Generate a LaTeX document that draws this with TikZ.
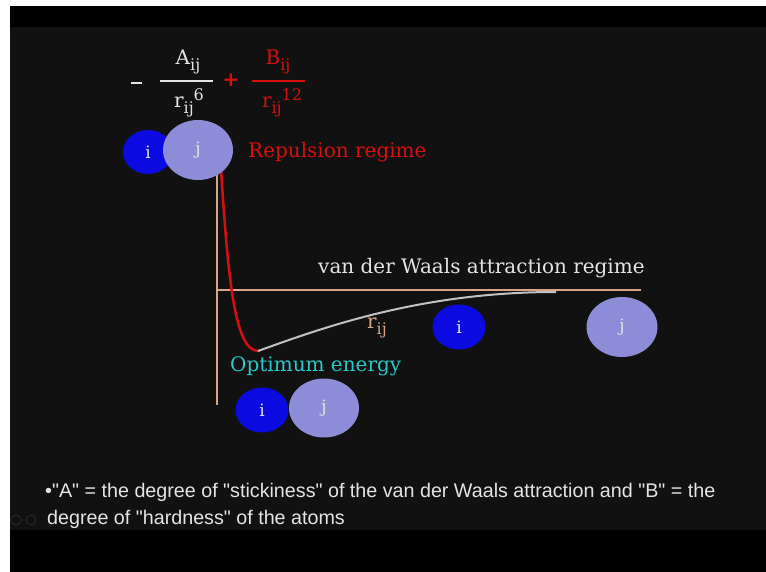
\documentclass[tikz,border=0pt]{standalone}
\usepackage{fontspec}
\setmainfont{DejaVu Serif}
\newfontfamily\notefont{Liberation Sans}
\usetikzlibrary{shapes.geometric}
\definecolor{bgdark}{RGB}{17,17,17}
\definecolor{atomi}{RGB}{10,10,225}
\definecolor{atomj}{RGB}{140,140,215}
\definecolor{axistan}{RGB}{215,165,135}
\definecolor{redtxt}{RGB}{215,15,15}
\definecolor{cyantxt}{RGB}{40,200,200}
\definecolor{whitetxt}{RGB}{228,228,228}
\tikzset{
  atomI/.style={ellipse, fill=atomi, draw=none, inner sep=0pt, text=whitetxt, font=\fontsize{17}{17}\selectfont},
  atomJ/.style={ellipse, fill=atomj, draw=none, inner sep=0pt, text=whitetxt, font=\fontsize{17}{17}\selectfont},
  axisline/.style={draw=axistan, line width=2pt},
  lbl/.style={inner sep=0pt, font=\fontsize{20}{20}\selectfont},
  fbar/.style={line width=2pt},
  note/.style={inner sep=0pt, anchor=west, text=whitetxt, font=\notefont\fontsize{19.7}{20}\selectfont}
}
\newcommand{\sbij}{\raisebox{-6pt}{\fontsize{16}{16}\selectfont ij}}
\begin{document}
\begin{tikzpicture}[x=1pt,y=-1pt]
\useasboundingbox (0,0) rectangle (766,572);
\fill[white] (0,0) rectangle (766,572);
\fill[black] (10,6) rectangle (766,572);
\fill[bgdark] (10,27) rectangle (766,530);

% formula
\coordinate (ml) at (131,83); \coordinate (mr) at (142,83);
\draw[whitetxt, line width=2pt] (ml) -- (mr);
\coordinate (abl) at (160,81); \coordinate (abr) at (213,81);
\draw[fbar, whitetxt] (abl) -- (abr);
\node[lbl, text=whitetxt] (anum) at (188,62) {A\sbij};
\node[lbl, text=whitetxt] (aden) at (189,103) {r\sbij\raisebox{7pt}{\fontsize{16}{16}\selectfont 6}};
\node[lbl, text=redtxt] (plus) at (231,80) {\textbf{+}};
\coordinate (bbl) at (252,81); \coordinate (bbr) at (305,81);
\draw[fbar, redtxt] (bbl) -- (bbr);
\node[lbl, text=redtxt] (bnum) at (278,62) {B\sbij};
\node[lbl, text=redtxt] (bden) at (282,103) {r\sbij\raisebox{7pt}{\fontsize{16}{16}\selectfont 12}};

% axes
\coordinate (vtop) at (217,175); \coordinate (vbot) at (217,405);
\coordinate (hleft) at (217,290); \coordinate (hright) at (641,290);
\draw[axisline] (vtop) -- (vbot);
\draw[axisline] (hleft) -- (hright);

% curve
\coordinate (cstart) at (221,170);
\coordinate (cmin) at (258,351);
\coordinate (cend) at (556,292);
\draw[redtxt, line width=2.5pt] (cstart) .. controls (228,275) and (234,350) .. (cmin);
\draw[whitetxt!85!black, line width=2pt] (cmin) .. controls (322,328) and (420,292) .. (cend);

% atoms
\node[atomI, minimum width=50pt, minimum height=44pt] (i1) at (148,152) {i};
\node[atomJ, minimum width=70pt, minimum height=60pt] (j1) at (198,150) {j};
\node[atomI, minimum width=53pt, minimum height=45pt] (i2) at (459,327) {i};
\node[atomJ, minimum width=71pt, minimum height=60pt] (j2) at (622,327) {j};
\node[atomI, minimum width=53pt, minimum height=45pt] (i3) at (262,410) {i};
\node[atomJ, minimum width=70pt, minimum height=59pt] (j3) at (324,408) {j};

% labels
\node[lbl, text=redtxt, anchor=west] (rep) at (248,152) {Repulsion regime};
\node[lbl, text=whitetxt, anchor=west] (vdw) at (318,268) {van der Waals attraction regime};
\node[lbl, text=axistan] (rij) at (377,328) {r\sbij};
\node[lbl, text=cyantxt, anchor=west] (opt) at (230,366) {Optimum energy};

% note
\node[note] (n1) at (45,492) {•"A" = the degree of "stickiness" of the van der Waals attraction and "B" = the};
\node[note] (n2) at (47,519) {degree of "hardness" of the atoms};
\foreach \cx in {16,31}{\draw[gray!40!black, line width=0.6pt] (\cx,520) circle (5pt);}
\end{tikzpicture}
\end{document}
